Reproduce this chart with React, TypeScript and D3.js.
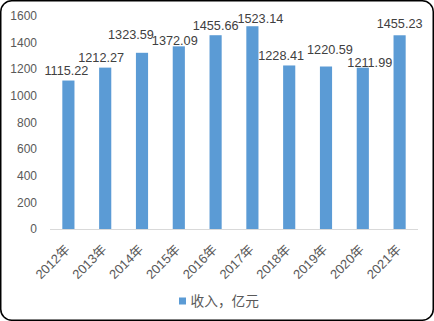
import React from "react";
import * as d3 from "d3";

const categories = ["2012年", "2013年", "2014年", "2015年", "2016年", "2017年", "2018年", "2019年", "2020年", "2021年"];
const revenue = [1115.22, 1212.27, 1323.59, 1372.09, 1455.66, 1523.14, 1228.41, 1220.59, 1211.99, 1455.23];
const yTicks = [0, 200, 400, 600, 800, 1000, 1200, 1400, 1600];
const seriesName = "收入，亿元";
// manual label nudges (dx, dy) as in the original chart
const labelDx = [-2, -4, -11, -4, 0, 8, -8, 4, 7, 0];
const labelDy = [0, 0, -8, 5, 1, 3, 1, -7, 5, -1];

const W = 434;
const H = 321;
const FONT = "'Liberation Sans', Arial, sans-serif";
const CJK = "'Noto Sans CJK SC', sans-serif";

export default function App() {
  const x = d3.scaleBand<string>().domain(categories).range([50, 418]).paddingInner(0.67).paddingOuter(0.335);
  const y = d3.scaleLinear().domain([0, 1600]).range([229, 16]);
  const bw = x.bandwidth();
  return (
    <svg width={W} height={H} style={{ position: "fixed", left: 0, top: 0, background: "#fff" }}>
      <rect x={0.75} y={0.75} width={W - 1.5} height={H - 1.5} rx={11} ry={11} fill="#fff" stroke="#000" strokeWidth={1.5} />
      {yTicks.map((t) => (
        <text key={t} x={37} y={y(t)} dy="0.35em" textAnchor="end" fontFamily={FONT} fontSize={12} fill="#595959">
          {t}
        </text>
      ))}
      {categories.map((c, i) => (
        <rect key={c} x={x(c)!} y={y(revenue[i])} width={bw} height={y(0) - y(revenue[i])} fill="#5b9bd5" />
      ))}
      <line x1={50} x2={418} y1={y(0) + 0.5} y2={y(0) + 0.5} stroke="#d9d9d9" strokeWidth={1} />
      {categories.map((c, i) => (
        <text
          key={"l" + c}
          x={x(c)! + bw / 2 + labelDx[i]}
          y={y(revenue[i]) - 6 + labelDy[i]}
          textAnchor="middle"
          fontFamily={FONT}
          fontSize={12.7}
          fill="#404040"
        >
          {revenue[i].toFixed(2)}
        </text>
      ))}
      {categories.map((c) => {
        const cx = x(c)! + bw / 2 - 1;
        const cy = 247;
        return (
          <text
            key={"x" + c}
            transform={`translate(${cx},${cy}) rotate(-45)`}
            textAnchor="end"
            dy="0.35em"
            fontFamily={`${FONT.split(",")[0]}, ${CJK}`}
            fontSize={13}
            fill="#595959"
          >
            {c}
          </text>
        );
      })}
      <rect x={179} y={297.5} width={7} height={7} fill="#5b9bd5" />
      <text x={190.5} y={301} dy="0.35em" fontFamily={CJK} fontSize={13.7} fill="#595959">
        {seriesName}
      </text>
    </svg>
  );
}
